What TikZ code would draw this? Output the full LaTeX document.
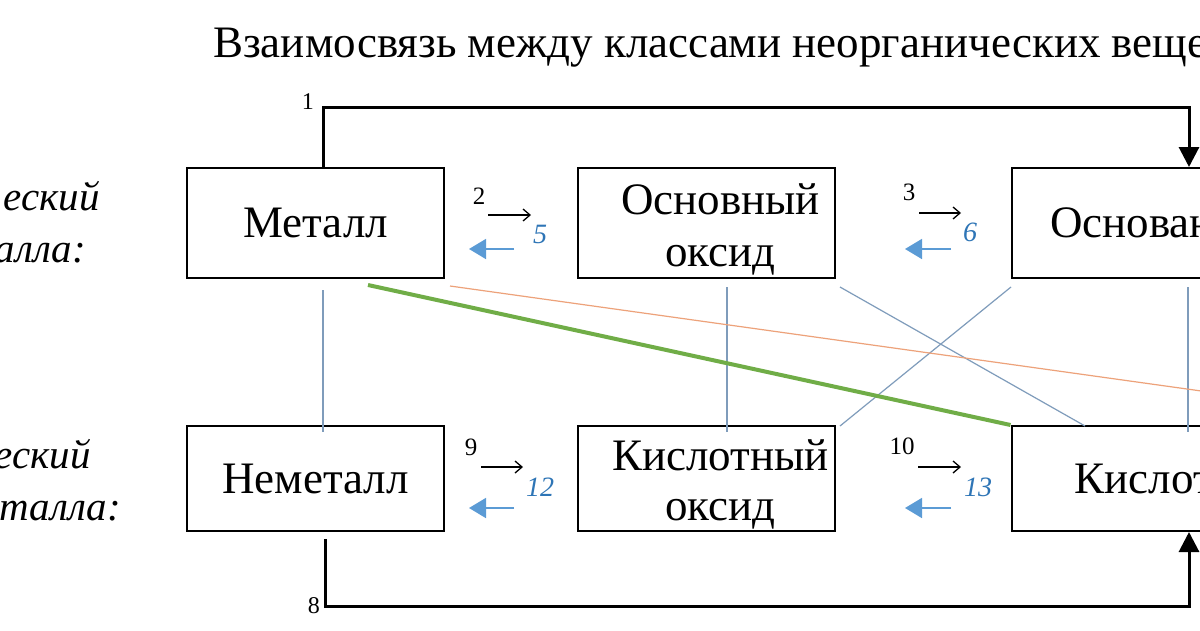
\documentclass[tikz,border=0pt]{standalone}
\usepackage{fontspec}
\setmainfont{Liberation Serif}
\usetikzlibrary{arrows.meta}
\definecolor{thinblue}{HTML}{7F9CBB}
\definecolor{arrblue}{HTML}{5B9BD5}
\definecolor{numblue}{HTML}{2E75B6}
\definecolor{lgreen}{HTML}{70AD47}
\definecolor{lorange}{HTML}{EDA27A}
\newcommand{\tpad}{\hspace*{28pt}}
\tikzset{
  box/.style={draw=black, line width=2pt, fill=white, minimum width=257pt, minimum height=110pt, inner sep=0pt, font=\fontsize{45}{52}\selectfont, align=center},
  lowbox/.style={box, minimum height=105pt},
  mainconn/.style={draw=black, line width=3pt},
  thinline/.style={draw=thinblue, line width=1.2pt},
  barrow/.style={draw=arrblue, line width=1.6pt, -{Triangle[length=17pt,width=20pt]}},
  rarrow/.style={draw=black, line width=1.3pt, -{Straight Barb[length=7pt,width=12pt]}},
  supnum/.style={inner sep=0pt, font=\fontsize{25}{27}\selectfont},
  subnum/.style={inner sep=0pt, text=numblue, font=\fontsize{28}{30}\selectfont\itshape},
  sidelab/.style={inner sep=0pt, anchor=base east, font=\fontsize{41}{44}\selectfont\itshape},
  lab/.style={inner sep=0pt, font=\fontsize{24}{26}\selectfont}
}
\begin{document}
\begin{tikzpicture}[x=1pt,y=-1pt]
\useasboundingbox (0,0) rectangle (1200,630);
\clip (0,0) rectangle (1200,630);
\fill[white] (0,0) rectangle (1200,630);

% title
\node[inner sep=0pt, anchor=base west, font=\fontsize{45}{49}\selectfont] (title) at (213,57) {Взаимосвязь между классами неорганических веществ};

% side labels
\node[sidelab] (s1) at (100,210) {еский};
\node[sidelab] (s2) at (86,262) {алла:};
\node[sidelab] (s3) at (91,468) {еский};
\node[sidelab] (s4) at (121,520) {талла:};

% boxes
\node[box] (met) at (315.5,223) {Металл};
\node[box, text depth=0pt] (bo) at (706.5,223) {\raisebox{-4pt}{\tpad Основный}\\\raisebox{-4pt}{\tpad оксид}};
\node[box] (osn) at (1140,223) {\tpad Основание};
\node[lowbox] (nem) at (315.5,478.5) {Неметалл};
\node[lowbox, text depth=0pt, font=\fontsize{45}{50}\selectfont] (ko) at (706.5,478.5) {\raisebox{-3pt}{\tpad Кислотный}\\\raisebox{-3pt}{\tpad оксид}};
\node[lowbox] (kis) at (1140,478.5) {\tpad Кислота};

% thin cross lines
\coordinate (m1) at (323,290);
\coordinate (m2) at (323,432);
\draw[thinline] (m1) -- (m2);
\coordinate (b1) at (727,287);
\coordinate (b2) at (727,432);
\draw[thinline] (b1) -- (b2);
\coordinate (d1) at (840,287);
\coordinate (d2) at (1085,426);
\draw[thinline] (d1) -- (d2);
\coordinate (e1) at (1011,287);
\coordinate (e2) at (840,426);
\draw[thinline] (e1) -- (e2);
\coordinate (v1) at (1188,287);
\coordinate (v2) at (1188,432);
\draw[thinline] (v1) -- (v2);
\coordinate (o1) at (450,286);
\coordinate (o2) at (1280,402);
\draw[draw=lorange, line width=1.2pt] (o1) -- (o2);
\coordinate (g1) at (368,285);
\draw[draw=lgreen, line width=4pt] (g1) -- (kis.north west);

% main connectors
\coordinate (t1) at (323,107);
\coordinate (t2) at (1189,107);
\draw[mainconn, -{Triangle[length=20pt,width=20pt]}] (met.north -| t1) -- (t1) -- (t2) -- (osn.north -| t2);
\node[lab, anchor=south east] (l1) at (314,110) {1};
\coordinate (u0) at (325,539);
\coordinate (u1) at (325,606);
\coordinate (u2) at (1189,606);
\draw[mainconn, -{Triangle[length=20pt,width=20pt]}] (u0) -- (u1) -- (u2) -- (kis.south -| u2);
\node[lab, anchor=east] (l8) at (320,606) {8};

% reaction numbers and arrows (top)
\node[supnum] (n2) at (479,196) {2};
\coordinate (a2s) at (488,215);
\coordinate (a2e) at (531,215);
\draw[rarrow] (a2s) -- (a2e);
\node[subnum] (n5) at (540,234) {5};
\coordinate (p2s) at (514,249);
\coordinate (p2e) at (469,249);
\draw[barrow] (p2s) -- (p2e);

\node[supnum] (n3) at (909,192) {3};
\coordinate (a3s) at (919,213);
\coordinate (a3e) at (961,213);
\draw[rarrow] (a3s) -- (a3e);
\node[subnum] (n6) at (970,232) {6};
\coordinate (p3s) at (951,249);
\coordinate (p3e) at (905,249);
\draw[barrow] (p3s) -- (p3e);

% reaction numbers and arrows (bottom)
\node[supnum] (n9) at (471,447) {9};
\coordinate (a9s) at (481,467);
\coordinate (a9e) at (523,467);
\draw[rarrow] (a9s) -- (a9e);
\node[subnum] (n12) at (540,487) {12};
\coordinate (p9s) at (514,508);
\coordinate (p9e) at (469,508);
\draw[barrow] (p9s) -- (p9e);

\node[supnum] (n10) at (902,446) {10};
\coordinate (a10s) at (918,467);
\coordinate (a10e) at (961,467);
\draw[rarrow] (a10s) -- (a10e);
\node[subnum] (n13) at (978,487) {13};
\coordinate (p10s) at (951,508);
\coordinate (p10e) at (905,508);
\draw[barrow] (p10s) -- (p10e);
\end{tikzpicture}
\end{document}
